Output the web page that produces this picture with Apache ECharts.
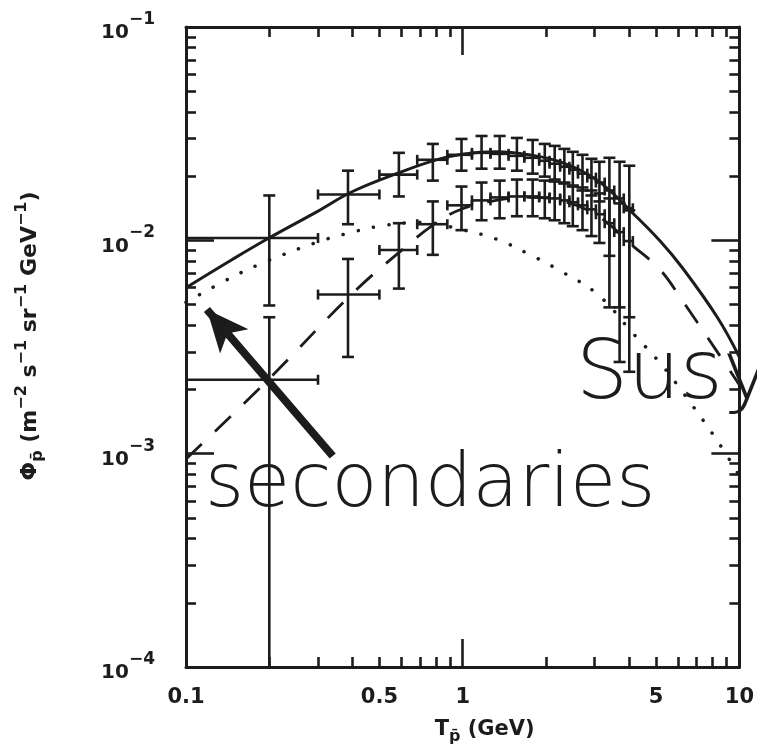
<!DOCTYPE html>
<html><head><meta charset="utf-8">
<script src="https://cdn.jsdelivr.net/npm/echarts@6/dist/echarts.min.js"></script>
<style>html,body{margin:0;padding:0;background:#fff}#c{width:757px;height:750px}</style>
</head><body><div id="c"></div>
<script>
// ---- data ----
const energy = [0.2, 0.385, 0.588, 0.78, 0.99, 1.17, 1.36, 1.57, 1.79, 1.98, 2.15, 2.33, 2.50, 2.71, 2.92, 3.12, 3.39, 3.69, 4.0];
const binLo  = [0.1, 0.3, 0.5, 0.685, 0.88, 1.08, 1.26, 1.465, 1.67, 1.89, 2.06, 2.25, 2.43, 2.61, 2.82, 3.03, 3.26, 3.53, 3.82];
const binHi  = [0.3, 0.5, 0.685, 0.88, 1.08, 1.26, 1.465, 1.67, 1.89, 2.06, 2.25, 2.43, 2.61, 2.82, 3.03, 3.26, 3.53, 3.82, 4.12];

const fluxA   = [0.01025,0.01641,0.02032,0.02385,0.02517,0.02571,0.02543,0.02489,0.02437,0.02360,0.02286,0.02213,0.02144,0.02054,0.01968,0.01866,0.01713,0.01572,0.01413];
const fluxAHi = [0.01623,0.02121,0.02571,0.02831,0.02987,0.03084,0.03084,0.03019,0.02955,0.02831,0.02771,0.02683,0.02600,0.02517,0.02411,0.02335,0.02437,0.02335,0.02237];
const fluxALo = [0.00495,0.0119,0.01606,0.01905,0.02121,0.02167,0.02167,0.02121,0.02054,0.01989,0.01927,0.01866,0.01787,0.01713,0.01623,0.01522,0.00846,0.00485,0.00436];

const fluxB   = [0.00222,0.00557,0.00901,0.0119,0.01459,0.01539,0.01589,0.01606,0.01606,0.01589,0.01572,0.01539,0.01507,0.01459,0.01397,0.01325,0.01203,0.01093,0.00992];
const fluxBHi = [0.00436,0.00818,0.01203,0.01522,0.01787,0.01866,0.01905,0.01927,0.01927,0.01905,0.01886,0.01846,0.01807,0.01769,0.01713,0.01659,0.01572,0.01490,0.01382];
const fluxBLo = [0.00005,0.00284,0.00594,0.00855,0.01116,0.01242,0.01269,0.01297,0.01297,0.01269,0.01242,0.01203,0.01165,0.01116,0.01047,0.00972,0.00485,0.00269,0.00242];

const solidX = [0.1, 0.148, 0.198, 0.299, 0.40, 0.604, 0.808, 1.01, 1.32, 1.73, 2.25, 3.08, 4.12, 5.17, 6.22, 8.32, 10];
const solidY = [0.0060,0.00818,0.0102,0.01367,0.01694,0.0210,0.0239,0.0254,0.0260,0.0252,0.0233,0.0190,0.0134,0.00993,0.00744,0.00436,0.00284];

const dashX = [0.1, 0.198, 0.40, 0.604, 0.808, 1.01, 1.32, 1.73, 2.25, 3.08, 4.12, 5.17, 6.22, 8.32, 10];
const dashY = [0.000944,0.00222,0.00564,0.00902,0.01217,0.01413,0.01539,0.01589,0.01539,0.0130,0.00942,0.00728,0.00522,0.00300,0.0021];

const dotX = [0.1, 0.148, 0.198, 0.299, 0.40, 0.502, 0.706, 1.01, 1.32, 1.73, 2.25, 3.08, 4.12, 5.17, 6.22, 8.32, 10];
const dotY = [0.00512,0.00676,0.00802,0.00982,0.01093,0.01165,0.01216,0.01116,0.01014,0.00863,0.00720,0.00557,0.00367,0.00266,0.00195,0.00115,0.000787];

const arrowTail = [0.339, 0.000975];
const arrowTip  = [0.119, 0.00474];

const xLabelValues = [0.1, 0.5, 1, 5, 10];
const xMajorTicks = [0.1, 1, 10];
const xMinorTicks = [0.2,0.3,0.4,0.5,0.6,0.7,0.8,0.9,2,3,4,5,6,7,8,9];
const yMajorTicks = [1e-4, 1e-3, 1e-2, 1e-1];
const yMinorTicks = [2e-4,3e-4,4e-4,5e-4,6e-4,7e-4,8e-4,9e-4,2e-3,3e-3,4e-3,5e-3,6e-3,7e-3,8e-3,9e-3,2e-2,3e-2,4e-2,5e-2,6e-2,7e-2,8e-2,9e-2];

// ---- chart ----
const ink = '#1c1c1c';
const F = '"DejaVu Sans", "Liberation Sans", sans-serif';
const chart = echarts.init(document.getElementById('c'), null, {renderer: 'canvas'});

function pts(xs, ys) { return xs.map((x, i) => [x, ys[i]]); }
function crossData(ys, lo, hi) {
  return energy.map((x, i) => [x, ys[i], binLo[i], binHi[i], lo[i], hi[i]]);
}
function crossRender(params, api) {
  const x = api.value(0), y = api.value(1);
  const c = api.coord([x, y]);
  const l = api.coord([api.value(2), y]);
  const r = api.coord([api.value(3), y]);
  const b = api.coord([x, api.value(4)]);
  const t = api.coord([x, api.value(5)]);
  const style = {stroke: ink, lineWidth: 2.6, fill: null};
  const cw = 6, ch = 5;
  const ln = (x1, y1, x2, y2) => ({type: 'line', shape: {x1, y1, x2, y2}, style});
  return {type: 'group', children: [
    ln(l[0], c[1], r[0], c[1]),
    ln(c[0], t[1], c[0], b[1]),
    ln(c[0] - cw, t[1], c[0] + cw, t[1]),
    ln(c[0] - cw, b[1], c[0] + cw, b[1]),
    ln(l[0], c[1] - ch, l[0], c[1] + ch),
    ln(r[0], c[1] - ch, r[0], c[1] + ch)
  ]};
}

function xAxisDef(pos, major) {
  return {
    type: 'log', min: 0.1, max: 10, logBase: 10, position: pos,
    axisLine: {show: major, onZero: false, lineStyle: {color: ink, width: 3}},
    axisTick: {show: true, inside: true, length: major ? 28 : 10, customValues: major ? xMajorTicks : xMinorTicks,
               lineStyle: {color: ink, width: 2.6}},
    axisLabel: (major && pos === 'bottom') ? {
      show: true, customValues: xLabelValues, margin: 20, color: ink,
      fontSize: 21, fontWeight: 'bold', fontFamily: F,
      formatter: v => String(parseFloat(Number(v).toPrecision(2)))
    } : {show: false},
    splitLine: {show: false}, minorTick: {show: false}, minorSplitLine: {show: false}
  };
}
function yAxisDef(pos, major) {
  return {
    type: 'log', min: 1e-4, max: 1e-1, logBase: 10, position: pos,
    axisLine: {show: major, onZero: false, lineStyle: {color: ink, width: 3}},
    axisTick: {show: true, inside: true, length: major ? 28 : 10, customValues: major ? yMajorTicks : yMinorTicks,
               lineStyle: {color: ink, width: 2.6}},
    axisLabel: (major && pos === 'left') ? {
      show: true, customValues: yMajorTicks, margin: 31, color: ink,
      formatter: v => '{b|10}{s|\u2212' + Math.round(-Math.log10(v)) + '}',
      rich: {
        b: {fontSize: 20, fontWeight: 'bold', fontFamily: F, color: ink, lineHeight: 32, verticalAlign: 'bottom'},
        s: {fontSize: 17, fontWeight: 'bold', fontFamily: F, color: ink, verticalAlign: 'top'}
      }
    } : {show: false},
    splitLine: {show: false}, minorTick: {show: false}, minorSplitLine: {show: false}
  };
}

const xAxes = [xAxisDef('bottom', true), xAxisDef('bottom', false), xAxisDef('top', true), xAxisDef('top', false)];
xAxes[0].name = '{t|T}{sub|p\u0304}{t| (GeV)}';
xAxes[0].nameLocation = 'middle';
xAxes[0].nameGap = 48;
xAxes[0].nameTextStyle = {
  padding: [0, 0, 0, 44],
  rich: {
    t: {fontSize: 21, fontWeight: 'bold', fontFamily: F, color: ink, lineHeight: 30},
    sub: {fontSize: 16, fontWeight: 'bold', fontFamily: F, color: ink, verticalAlign: 'bottom'}
  }
};
const yAxes = [yAxisDef('left', true), yAxisDef('left', false), yAxisDef('right', true), yAxisDef('right', false)];
yAxes[0].name = '{t|\u03A6}{sub|p\u0304}{t| (m}{sup|\u22122}{t| s}{sup|\u22121}{t| sr}{sup|\u22121}{t| GeV}{sup|\u22121}{t|)}';
yAxes[0].nameLocation = 'middle';
yAxes[0].nameRotate = 90;
yAxes[0].nameGap = 140;
yAxes[0].nameTextStyle = {
  padding: [0, 0, 0, 22],
  rich: {
    t: {fontSize: 22, fontWeight: 'bold', fontFamily: F, color: ink, lineHeight: 32},
    sup: {fontSize: 16, fontWeight: 'bold', fontFamily: F, color: ink, verticalAlign: 'top'},
    sub: {fontSize: 16, fontWeight: 'bold', fontFamily: F, color: ink, verticalAlign: 'bottom'}
  }
};

const option = {
  animation: false,
  backgroundColor: '#ffffff',
  grid: {left: 186, right: 17, top: 27, bottom: 77, containLabel: false},
  xAxis: xAxes,
  yAxis: yAxes,
  series: [
    {type: 'line', name: 'fit', data: pts(solidX, solidY), showSymbol: false, smooth: 0.4, clip: true,
     lineStyle: {color: ink, width: 3}},
    {type: 'line', name: 'susy', data: pts(dashX, dashY), showSymbol: false, smooth: 0.4, clip: true,
     lineStyle: {color: ink, width: 2.8, type: [22, 18]}},
    {type: 'line', name: 'secondaries', data: pts(dotX, dotY), showSymbol: false, smooth: 0.4, clip: true,
     lineStyle: {color: ink, width: 3.5, type: [0.1, 15.5], cap: 'round'},
     markLine: {
       silent: true, symbol: ['none', 'arrow'], symbolSize: [28, 42],
       label: {show: false},
       lineStyle: {color: ink, width: 8, type: 'solid'},
       data: [[{coord: arrowTail}, {coord: arrowTip}]]
     }},
    {type: 'custom', name: 'data A', renderItem: crossRender, data: crossData(fluxA, fluxALo, fluxAHi),
     encode: {x: 0, y: 1}, clip: true},
    {type: 'custom', name: 'data B', renderItem: crossRender, data: crossData(fluxB, fluxBLo, fluxBHi),
     encode: {x: 0, y: 1}, clip: true}
  ],
  graphic: [
    {type: 'text', x: 205, y: 487, silent: true,
     style: {text: 'secondaries', font: '200 75px "DejaVu Sans"', fill: ink, verticalAlign: 'middle'}},
    {type: 'text', x: 576, y: 377, silent: true,
     style: {text: 'Susy', font: '200 82px "DejaVu Sans"', fill: ink, verticalAlign: 'middle'}}
  ]
};
chart.setOption(option);
</script>
</body></html>
